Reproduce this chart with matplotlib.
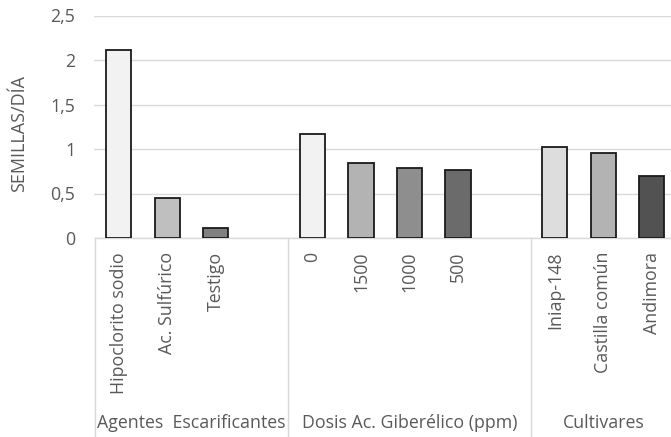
import matplotlib
matplotlib.use("Agg")
import matplotlib.pyplot as plt
from matplotlib.transforms import blended_transform_factory
from matplotlib.lines import Line2D

plt.rcParams['font.family'] = ['Open Sans', 'DejaVu Sans']

# Data
groups = ["Agentes  Escarificantes", "Dosis Ac. Giberélico (ppm)", "Cultivares"]
agentes_labels = ["Hipoclorito sodio", "Ac. Sulfúrico", "Testigo"]
agentes_values = [2.11, 0.45, 0.11]
dosis_labels = ["0", "1500", "1000", "500"]
dosis_values = [1.17, 0.84, 0.785, 0.76]
cultivar_labels = ["Iniap-148", "Castilla común", "Andimora"]
cultivar_values = [1.02, 0.96, 0.70]
yticks = [0, 0.5, 1, 1.5, 2, 2.5]
ytick_labels = ["0", "0,5", "1", "1,5", "2", "2,5"]
ylabel = "SEMILLAS/DÍA"

agentes_colors = ["#f2f2f2", "#bfbfbf", "#808080"]
dosis_colors = ["#f2f2f2", "#b3b3b3", "#8e8e8e", "#6b6b6b"]
cultivar_colors = ["#dddddd", "#b3b3b3", "#525252"]

group_labels = [agentes_labels, dosis_labels, cultivar_labels]
group_values = [agentes_values, dosis_values, cultivar_values]
group_colors = [agentes_colors, dosis_colors, cultivar_colors]

txt = "#595959"
grid_c = "#d9d9d9"

fig = plt.figure(figsize=(6.71, 4.37), dpi=100)
renderer = fig.canvas.get_renderer()


def fit_size(s, target_px, rotation=0):
    t = fig.text(0, 0, s, fontsize=10, rotation=rotation)
    bb = t.get_window_extent(renderer)
    w = bb.height if rotation else bb.width
    t.remove()
    return 10 * target_px / w


fs = fit_size("Agentes  Escarificantes", 189)
fs_y = fit_size(ylabel, 117)
fs_tick = fit_size("2,5", 25)

ax = fig.add_axes([94.5 / 671, 199 / 437, 581.5 / 671, 222.5 / 437])

xs, labs, vals, cols = [], [], [], []
bounds = [-0.5]
pos = 0
centers = []
for i, (gl, gv, gc) in enumerate(zip(group_labels, group_values, group_colors)):
    start = pos
    for l, v, c in zip(gl, gv, gc):
        xs.append(pos); labs.append(l); vals.append(v); cols.append(c)
        pos += 1
    pos += 1  # empty slot after group
    last = pos - 0.5 if i < 2 else pos - 1.5
    centers.append((start - 0.5 + last) / 2)
    bounds.append(pos - 0.5)

ax.bar(xs, vals, width=0.52, color=cols, edgecolor="#1a1a1a", linewidth=1.3, zorder=3)

ax.set_xlim(-0.5, 11.5)
ax.set_ylim(0, 2.5)
ax.set_yticks(yticks)
ax.set_yticklabels(ytick_labels, fontsize=fs_tick, color=txt)
ax.set_xticks(xs)
ax.set_xticklabels(labs, rotation=90, fontsize=fs, color=txt, va="top", ha="center")
ax.tick_params(axis="both", length=0)
ax.tick_params(axis="y", pad=14)
ax.tick_params(axis="x", pad=10)
ax.yaxis.grid(True, color=grid_c, linewidth=1.0, zorder=0)
ax.set_axisbelow(True)
for s in ["top", "right", "left"]:
    ax.spines[s].set_visible(False)
ax.spines["bottom"].set_color(grid_c)
ax.spines["bottom"].set_linewidth(1.0)

tr = blended_transform_factory(ax.transData, fig.transFigure)
for b in bounds[:3]:
    fig.add_artist(Line2D([b, b], [199 / 437, 0], transform=tr, color=grid_c, linewidth=1.0, clip_on=False))

for g, cx in zip(groups, centers):
    fig.text(cx, 14 / 437, g, transform=tr, ha="center", va="center", fontsize=fs, color=txt)

fig.text(19 / 671, (437 - 133) / 437, ylabel, rotation=90, ha="center", va="center", fontsize=fs_y, color=txt)

fig.savefig("out.png", dpi=100)
